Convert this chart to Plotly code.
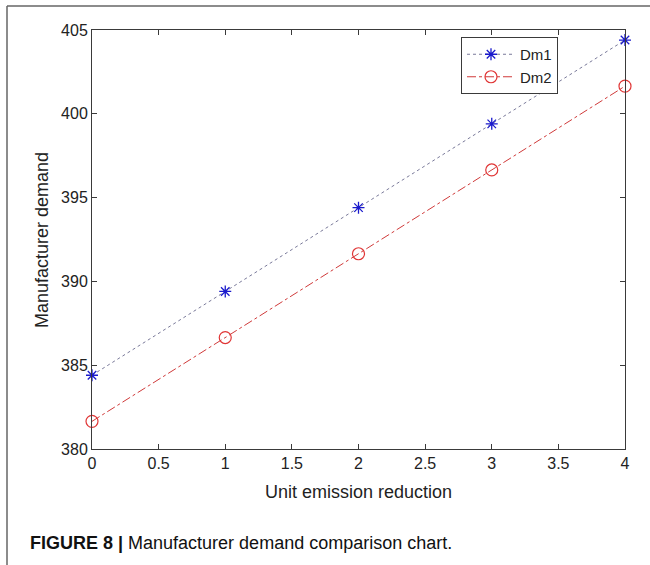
import plotly.graph_objects as go

x_vals = [0, 1, 2, 3, 4]
dm1 = [384.4, 389.4, 394.4, 399.4, 404.4]
dm2 = [381.65, 386.65, 391.65, 396.65, 401.65]
x_ticks = [0, 0.5, 1, 1.5, 2, 2.5, 3, 3.5, 4]
x_tick_text = ["0", "0.5", "1", "1.5", "2", "2.5", "3", "3.5", "4"]
y_ticks = [380, 385, 390, 395, 400, 405]

W, H = 650, 565
L, R, T, B = 92, 625, 30, 449

fig = go.Figure()
fig.add_trace(go.Scatter(
    x=x_vals, y=dm1, name="Dm1", mode="lines+markers",
    line=dict(color="#7a7a9a", width=1, dash="dot"),
    marker=dict(symbol="asterisk-open", size=10, color="#1a1acc",
                line=dict(color="#1a1acc", width=1.3)),
    cliponaxis=False,
))
fig.add_trace(go.Scatter(
    x=x_vals, y=dm2, name="Dm2", mode="lines+markers",
    line=dict(color="#d03a3a", width=1, dash="dashdot"),
    marker=dict(symbol="circle-open", size=12, color="#e03535",
                line=dict(color="#e03535", width=1.2)),
    cliponaxis=False,
))

axis_common = dict(
    showgrid=False, zeroline=False, showline=True, linecolor="#3a3a3a",
    linewidth=1, mirror="ticks", ticks="inside", ticklen=5, tickwidth=1,
    tickcolor="#3a3a3a", tickfont=dict(size=16, color="#222"),
)

fig.update_layout(
    width=W, height=H,
    margin=dict(l=0, r=0, t=0, b=0, autoexpand=False),
    paper_bgcolor="white", plot_bgcolor="white",
    font=dict(family="Liberation Sans, Arial, sans-serif", color="#222"),
    xaxis=dict(domain=[L / W, R / W], range=[0, 4], tickvals=x_ticks,
               ticktext=x_tick_text, automargin=False, **axis_common),
    yaxis=dict(domain=[1 - B / H, 1 - T / H], range=[380, 405],
               tickvals=y_ticks, automargin=False, **axis_common),
    showlegend=True,
    legend=dict(x=558 / W, xanchor="right", y=1 - 37 / H, yanchor="top",
                bordercolor="#3a3a3a", borderwidth=1, bgcolor="white",
                font=dict(size=15, color="#222"), tracegroupgap=0,
                itemwidth=48),
    shapes=[
        dict(type="line", xref="paper", yref="paper", x0=7 / W, x1=1,
             y0=1 - 6 / H, y1=1 - 6 / H, line=dict(color="#666", width=1.5)),
        dict(type="line", xref="paper", yref="paper", x0=7 / W, x1=7 / W,
             y0=0, y1=1 - 6 / H, line=dict(color="#666", width=1.5)),
    ],
    annotations=[
        dict(text="Unit emission reduction", xref="paper", yref="paper",
             x=(L + R) / 2 / W, y=1 - 492 / H, showarrow=False,
             font=dict(size=18, color="#222"), xanchor="center", yanchor="middle"),
        dict(text="Manufacturer demand", xref="paper", yref="paper",
             x=42 / W, y=1 - 240 / H, showarrow=False, textangle=-90,
             font=dict(size=18, color="#222"), xanchor="center", yanchor="middle"),
        dict(text="<b>FIGURE 8 |</b> Manufacturer demand comparison chart.",
             xref="paper", yref="paper", x=28 / W, y=1 - 543 / H,
             showarrow=False, font=dict(size=18, color="#111"),
             xanchor="left", yanchor="middle"),
    ],
)

fig.write_html("out.html", config={"displayModeBar": False},
               post_script="document.body.style.margin='0';"
                           "document.body.style.overflow='hidden';")
